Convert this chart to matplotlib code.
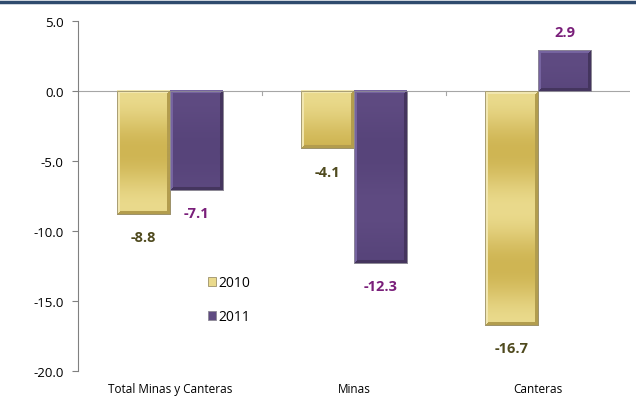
import numpy as np
import matplotlib
matplotlib.use("Agg")
import matplotlib.pyplot as plt
from matplotlib.colors import to_rgb

categories = ["Total Minas y Canteras", "Minas", "Canteras"]
values_2010 = [-8.8, -4.1, -16.7]
values_2011 = [-7.1, -12.3, 2.9]
series_names = ["2010", "2011"]

plt.rcParams["font.family"] = ["Open Sans", "DejaVu Sans"]
plt.rcParams["axes.unicode_minus"] = False

fig = plt.figure(figsize=(6.36, 4.02), dpi=100)
ax = fig.add_axes([0.1226, 0.0746, 0.868, 0.8706])

# top border line
fig.add_artist(plt.Line2D([0, 1], [0.992, 0.992], color="#2F4B6E", lw=2.5,
                          transform=fig.transFigure))

x = np.arange(len(categories))
w = 0.288

gold = dict(base="#EADA8C", band="#CFB553", light="#F2E7B0", dark="#B39D4E")
purple = dict(base="#5F4B82", band="#57447A", light="#7664A0", dark="#45355E")


def bevel_image(style, wpx, hpx, b=3):
    yy, xx = np.mgrid[0:hpx, 0:wpx]
    base = np.array(to_rgb(style["base"]))
    band = np.array(to_rgb(style["band"]))
    mix = 0.5 + 0.5 * np.cos(2 * np.pi * (yy - 60) / 115.0)
    img = base * (1 - mix[..., None]) + band * mix[..., None]
    dt, db, dl, dr = yy, hpx - 1 - yy, xx, wpx - 1 - xx
    dmin = np.minimum(np.minimum(dt, db), np.minimum(dl, dr))
    light = np.array(to_rgb(style["light"]))
    dark = np.array(to_rgb(style["dark"]))
    top_left = (np.minimum(dt, dl) == dmin) & (dmin < b)
    bot_right = (np.minimum(db, dr) == dmin) & (dmin < b) & ~top_left
    img[top_left] = light
    img[bot_right] = dark
    return img


bars10 = ax.bar(x - w / 2, values_2010, w, color=gold["base"], edgecolor="#9C916A",
                linewidth=0.6, label=series_names[0], zorder=2)
bars11 = ax.bar(x + w / 2, values_2011, w, color=purple["base"], edgecolor="#8E8A96",
                linewidth=0.6, label=series_names[1], zorder=2)

ax.set_xlim(-0.5, 2.5)
ax.set_ylim(-20, 5)

for bars, style in [(bars10, gold), (bars11, purple)]:
    for b in bars:
        x0, y0 = b.get_x(), b.get_y()
        x1, y1 = x0 + b.get_width(), y0 + b.get_height()
        p0 = ax.transData.transform((x0, min(y0, y1)))
        p1 = ax.transData.transform((x1, max(y0, y1)))
        wpx = max(int(round(p1[0] - p0[0])), 2)
        hpx = max(int(round(p1[1] - p0[1])), 2)
        img = bevel_image(style, wpx, hpx)
        ax.imshow(img, aspect="auto", interpolation="bilinear",
                  extent=[x0, x1, min(y0, y1), max(y0, y1)], zorder=2.5)
        # thin outline on top of the image
        ax.add_patch(plt.Rectangle((x0, min(y0, y1)), x1 - x0, abs(y1 - y0),
                                   fill=False, edgecolor=b.get_edgecolor(),
                                   lw=0.6, zorder=2.6))

# value labels
for i, v in enumerate(values_2010):
    ax.text(x[i] - w / 2, v - 1.65, f"{v:.1f}", ha="center", va="center",
            fontsize=10.5, fontweight="bold", color="#4F4A1E")
for i, v in enumerate(values_2011):
    off = 1.35 if v >= 0 else -1.6
    ax.text(x[i] + w / 2, v + off, f"{v:.1f}", ha="center", va="center",
            fontsize=10.5, fontweight="bold", color="#7A1F7A")

ax.axhline(0, color="#A6A6A6", lw=0.8, zorder=1)
for bnd in [0.5, 1.5]:
    ax.plot([bnd, bnd], [0, -0.3], color="#A6A6A6", lw=0.8, zorder=1)

ax.set_xlim(-0.5, 2.5)
ax.set_ylim(-20, 5)
yt = np.arange(-20, 5.1, 5)
ax.set_yticks(yt)
ax.set_yticklabels([f"{t:.1f}" for t in yt])
ax.set_xticks(x)
ax.set_xticklabels(categories)
ax.tick_params(axis="x", length=0, labelsize=8.5, pad=8)
ax.tick_params(axis="y", length=4.3, color="#808080", labelsize=9.5, pad=6,
               direction="out")
for s in ["top", "right", "bottom"]:
    ax.spines[s].set_visible(False)
ax.spines["left"].set_color("#808080")
ax.spines["left"].set_linewidth(0.8)

ax.legend(loc="upper left", bbox_to_anchor=(0.213, 0.31), frameon=False,
          fontsize=10, handlelength=0.6, handleheight=0.6, handletextpad=0.15,
          labelspacing=1.4)

fig.savefig("out.png", dpi=100)
